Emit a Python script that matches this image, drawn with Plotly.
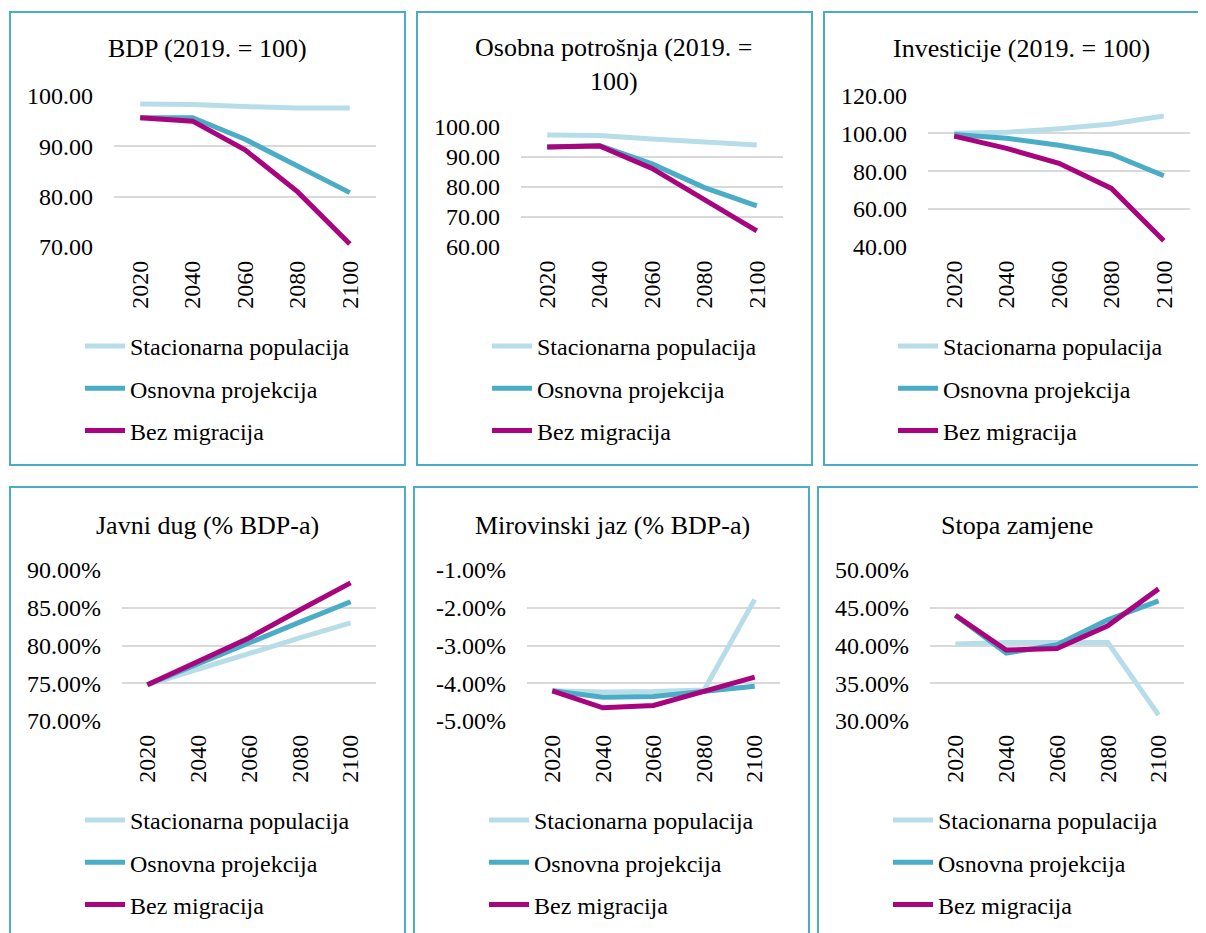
import plotly.graph_objects as go

# the page puts the figure 8px in from the top-left corner
OFF = 8
W, H = 1206 - OFF, 933 - OFF

years = ['2020', '2040', '2060', '2080', '2100']
series_names = ['Stacionarna populacija', 'Osnovna projekcija', 'Bez migracija']
series_colors = ['#B7DEE8', '#4BACC6', '#A8047E']

bdp_stac = [98.4, 98.3, 97.9, 97.6, 97.6]
bdp_osn = [95.7, 95.7, 91.4, 86.0, 80.8]
bdp_bez = [95.7, 95.0, 89.3, 81.0, 70.6]

potr_stac = [97.2, 97.1, 95.9, 95.0, 93.9]
potr_osn = [93.2, 93.7, 87.6, 79.7, 73.6]
potr_bez = [93.2, 93.6, 86.1, 75.6, 65.3]

inv_stac = [100.1, 100.6, 102.5, 105.0, 109.2]
inv_osn = [99.5, 97.5, 93.7, 89.0, 77.6]
inv_bez = [98.6, 92.1, 84.2, 70.9, 43.2]

dug_stac = [0.748, 0.769, 0.790, 0.810, 0.830]
dug_osn = [0.748, 0.776, 0.804, 0.831, 0.858]
dug_bez = [0.748, 0.779, 0.810, 0.847, 0.883]

jaz_stac = [-0.0420, -0.0423, -0.0422, -0.0418, -0.0178]
jaz_osn = [-0.0420, -0.0437, -0.0435, -0.0422, -0.0408]
jaz_bez = [-0.0420, -0.0465, -0.0459, -0.0422, -0.0384]

stopa_stac = [0.402, 0.404, 0.404, 0.404, 0.308]
stopa_osn = [0.440, 0.390, 0.401, 0.434, 0.459]
stopa_bez = [0.440, 0.394, 0.396, 0.426, 0.475]

titles = ['BDP (2019. = 100)', 'Osobna potrošnja (2019. =<br>100)', 'Investicije (2019. = 100)',
          'Javni dug (% BDP-a)', 'Mirovinski jaz (% BDP-a)', 'Stopa zamjene']

panels = [
    dict(data=[bdp_stac, bdp_osn, bdp_bez], ticks=[70, 80, 90, 100], pct=False),
    dict(data=[potr_stac, potr_osn, potr_bez], ticks=[60, 70, 80, 90, 100], pct=False),
    dict(data=[inv_stac, inv_osn, inv_bez], ticks=[40, 60, 80, 100, 120], pct=False),
    dict(data=[dug_stac, dug_osn, dug_bez], ticks=[0.70, 0.75, 0.80, 0.85, 0.90], pct=True),
    dict(data=[jaz_stac, jaz_osn, jaz_bez], ticks=[-0.05, -0.04, -0.03, -0.02, -0.01], pct=True),
    dict(data=[stopa_stac, stopa_osn, stopa_bez], ticks=[0.30, 0.35, 0.40, 0.45, 0.50], pct=True),
]

# pixel layout in window coordinates: plot area (left, right, top, bottom)
plot_px = [(114, 376, 96, 247), (521, 783, 126.7, 246.7), (928, 1190, 95.7, 246.7),
           (122, 376, 570, 721), (527, 780, 570, 721), (930, 1184, 570, 721)]
box_px = [(10, 405, 12, 465), (417, 812, 12, 465), (824, 1230, 12, 465),
          (10, 405, 487, 960), (414, 809, 487, 960), (818, 1230, 487, 960)]
title_px = [(207, 48), (614, 64), (1022, 48), (207, 525), (612, 525), (1017, 525)]
legend_px = [(80, 324), (487, 324), (893, 324), (80, 798), (484, 798), (888, 798)]

font = 'Liberation Serif'

def px_x(v):
    return (v - OFF) / W

def px_y(v):
    return 1 - (v - OFF) / H

def fmt(v, pct):
    return f'{v * 100:.2f}%' if pct else f'{v:.2f}'

fig = go.Figure()
layout = dict(width=W, height=H, margin=dict(l=0, r=0, t=0, b=0, autoexpand=False),
              paper_bgcolor='white', plot_bgcolor='white',
              font=dict(family=font, size=24, color='black'),
              showlegend=True, shapes=[], annotations=[])

for i, p in enumerate(panels):
    n = i + 1
    sfx = '' if n == 1 else str(n)
    leg = 'legend' + sfx
    for name, col, vals in zip(series_names, series_colors, p['data']):
        fig.add_trace(go.Scatter(x=years, y=vals, mode='lines', name=name,
                                 line=dict(color=col, width=5),
                                 xaxis='x' + sfx, yaxis='y' + sfx, legend=leg,
                                 legendgroup=f'{n}-{name}'))
    l, r, t, b = plot_px[i]
    layout['xaxis' + sfx] = dict(domain=[px_x(l), px_x(r)], anchor='y' + sfx, type='category',
                                 range=[-0.5, 4.5], tickangle=-90, showgrid=False,
                                 showline=False, zeroline=False, ticks='',
                                 ticklabelstandoff=8, tickfont=dict(size=24))
    tv = p['ticks']
    layout['yaxis' + sfx] = dict(domain=[px_y(b), px_y(t)], anchor='x' + sfx,
                                 range=[tv[0], tv[-1]], tickvals=tv,
                                 ticktext=[fmt(v, p['pct']) for v in tv],
                                 showgrid=True, gridcolor='#D9D9D9', gridwidth=1.5,
                                 zeroline=False, showline=False, ticks='',
                                 ticklabelstandoff=20, tickfont=dict(size=24))
    lx, ly = legend_px[i]
    layout[leg] = dict(x=px_x(lx), y=px_y(ly), xanchor='left', yanchor='top',
                       bgcolor='rgba(0,0,0,0)', font=dict(size=24), tracegroupgap=8,
                       itemwidth=40)
    bl, br, bt, bb = box_px[i]
    layout['shapes'].append(dict(type='rect', xref='paper', yref='paper',
                                 x0=px_x(bl), x1=px_x(br), y0=px_y(bb), y1=px_y(bt),
                                 line=dict(color='#4BACC6', width=2)))
    tx, ty = title_px[i]
    layout['annotations'].append(dict(text=titles[i], x=px_x(tx), y=px_y(ty),
                                      xref='paper', yref='paper', showarrow=False,
                                      font=dict(size=26), xanchor='center', yanchor='middle'))

fig.update_layout(**layout)
fig.write_html("out.html")
